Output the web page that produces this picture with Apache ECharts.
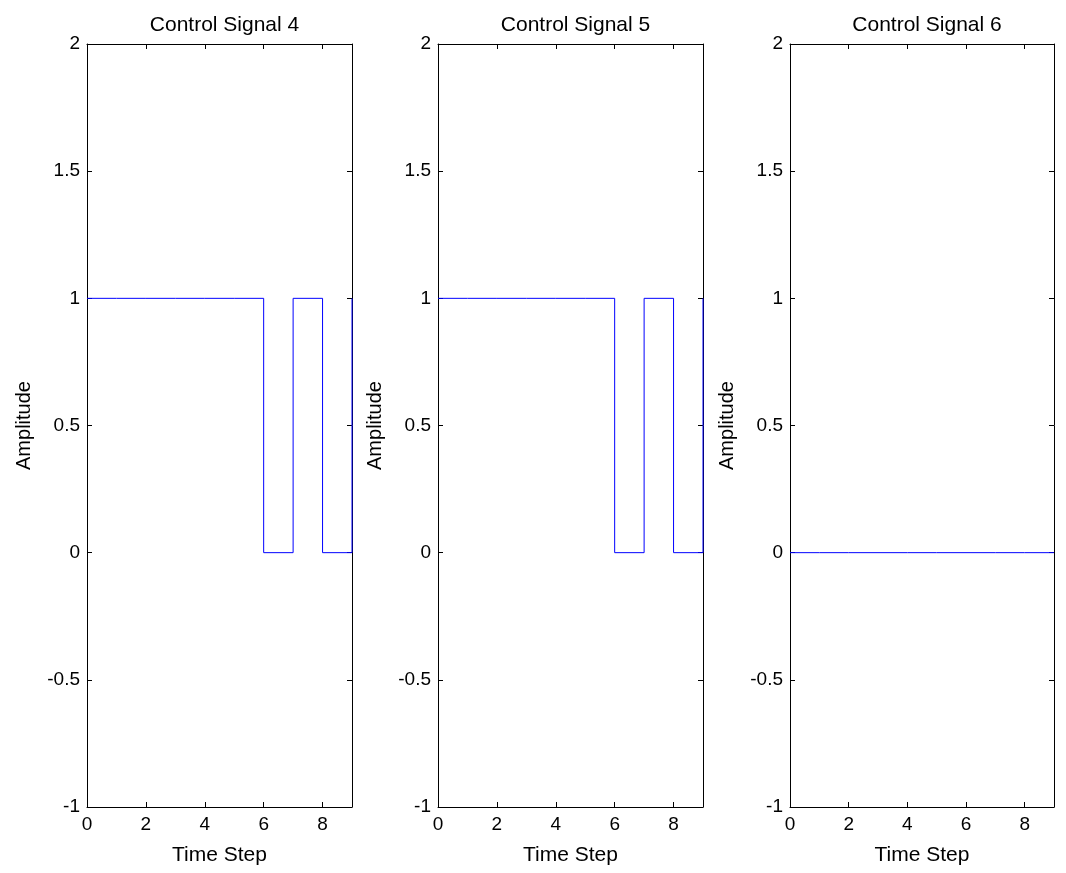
<!DOCTYPE html>
<html>
<head>
<meta charset="utf-8">
<script src="https://cdn.jsdelivr.net/npm/echarts@6/dist/echarts.min.js"></script>
<style>html,body{margin:0;padding:0;background:#fff}#c{width:1066px;height:873px}</style>
</head>
<body>
<div id="c"></div>
<script>
var timeSteps = [0, 1, 2, 3, 4, 5, 6, 7, 8, 9];
var signal4 = [1, 1, 1, 1, 1, 1, 0, 1, 0, 1];
var signal5 = [1, 1, 1, 1, 1, 1, 0, 1, 0, 1];
var signal6 = [0, 0, 0, 0, 0, 0, 0, 0, 0, 0];
var titles = ['Control Signal 4', 'Control Signal 5', 'Control Signal 6'];
var signals = [signal4, signal5, signal6];
var xName = 'Time Step';
var yName = 'Amplitude';

var chart = echarts.init(document.getElementById('c'), null, {renderer: 'canvas'});
var font = 'Arial, "Liberation Sans", sans-serif';
var grids = [
  {left: 87, top: 44, width: 265, height: 763},
  {left: 438, top: 44, width: 265, height: 763},
  {left: 790, top: 44, width: 264, height: 763}
];
var lineC = '#000';
function xAx(i, main) {
  return {
    type: 'value', gridIndex: i, min: 0, max: 9, interval: 2,
    position: main ? 'bottom' : 'top',
    name: main ? xName : '', nameLocation: 'middle', nameGap: 38,
    nameTextStyle: {fontFamily: font, fontSize: 21, color: '#000'},
    axisLine: {show: true, onZero: false, lineStyle: {color: lineC, width: 1}},
    axisTick: {show: true, inside: true, length: 5, lineStyle: {color: lineC}},
    axisLabel: {show: main, fontFamily: font, fontSize: 19, color: '#000', margin: 8, showMaxLabel: false},
    splitLine: {show: false}
  };
}
function yAx(i, main) {
  return {
    type: 'value', gridIndex: i, min: -1, max: 2, interval: 0.5,
    position: main ? 'left' : 'right',
    name: main ? yName : '', nameLocation: 'middle', nameGap: 53,
    nameTextStyle: {fontFamily: font, fontSize: 20, color: '#000'},
    axisLine: {show: true, onZero: false, lineStyle: {color: lineC, width: 1}},
    axisTick: {show: true, inside: true, length: 5, lineStyle: {color: lineC}},
    axisLabel: {show: main, fontFamily: font, fontSize: 19, color: '#000', margin: 7},
    splitLine: {show: false}
  };
}
var xAxes = [], yAxes = [], series = [], title = [];
for (var i = 0; i < 3; i++) {
  xAxes.push(xAx(i, true));
  xAxes.push(xAx(i, false));
  yAxes.push(yAx(i, true));
  yAxes.push(yAx(i, false));
  series.push({
    type: 'line', step: 'end', xAxisIndex: 2 * i, yAxisIndex: 2 * i,
    data: timeSteps.map(function (t, k) { return [t, signals[i][k]]; }),
    symbol: 'none', lineStyle: {color: '#0000ff', width: 1}, animation: false
  });
  title.push({
    text: titles[i], left: grids[i].left + grids[i].width / 2, top: 10, textAlign: 'center',
    textStyle: {fontFamily: font, fontSize: 21, fontWeight: 'normal', color: '#000'}
  });
}
chart.setOption({
  backgroundColor: '#fff',
  animation: false,
  title: title,
  grid: grids,
  xAxis: xAxes,
  yAxis: yAxes,
  series: series
});
</script>
</body>
</html>
